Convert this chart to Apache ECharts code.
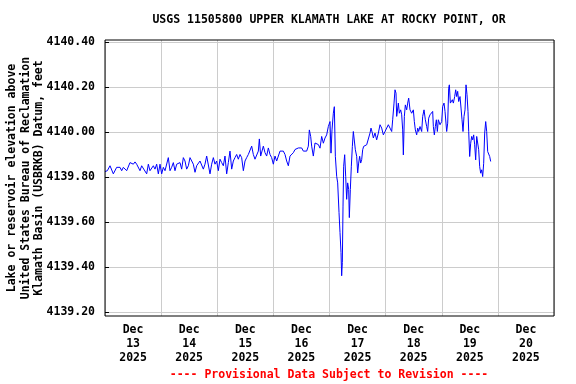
<!DOCTYPE html>
<html>
<head>
<meta charset="utf-8">
<script src="https://cdn.jsdelivr.net/npm/echarts@6/dist/echarts.min.js"></script>
<style>html,body{margin:0;padding:0;background:#fff}#c{width:576px;height:384px}</style>
</head>
<body>
<div id="c"></div>
<script>
const titleText = 'USGS 11505800 UPPER KLAMATH LAKE AT ROCKY POINT, OR';
const footerText = '---- Provisional Data Subject to Revision ----';
const yAxisName = 'Lake or reservoir elevation above\nUnited States Bureau of Reclamation\nKlamath Basin (USBRKB) Datum, feet';
const dayMonth = 'Dec';
const dayNumbers = ['13', '14', '15', '16', '17', '18', '19', '20'];
const dayYear = '2025';
const yMin = 4139.2, yMax = 4140.4, yStep = 0.2;
// hours since Dec 13 2025 00:00
const hours = [
0,1.0,2.14,3.56,4.99,6.41,7.13,7.84,9.27,10.69,11.40,12.12,12.83,13.54,14.97,15.68,16.39,17.82,18.53,19.24,
20.67,21.38,22.09,22.81,23.52,24.23,24.94,25.66,27.08,27.80,28.51,29.22,29.93,30.65,32.07,32.78,33.50,34.21,34.92,35.64,
36.35,37.06,37.77,38.49,39.20,40.62,41.34,42.05,42.76,43.48,44.19,44.90,45.61,46.33,47.04,47.75,48.46,49.18,49.89,50.60,
51.31,52.03,52.74,53.45,54.17,54.88,55.59,56.30,57.02,
57.73,58.44,59.16,59.87,60.58,61.29,62.01,62.72,63.43,64.14,64.86,65.57,66.0,66.57,67.0,67.71,68.42,69.13,69.85,70.56,
71.27,71.98,72.70,73.41,74.12,74.84,75.55,76.26,76.97,77.69,78.40,79.11,79.82,80.54,81.25,81.96,82.68,83.39,84.10,84.81,
85.53,86.24,86.95,87.38,87.95,88.38,89.09,89.80,90.51,91.23,
91.94,92.65,93.37,94.08,94.79,95.50,96.22,96.64,97.07,97.64,98.07,98.50,99.07,99.50,100.07,100.49,100.92,101.20,101.49,101.78,
102.06,102.49,102.92,103.34,103.77,104.20,104.48,104.91,105.34,105.77,106.19,106.62,107.05,107.62,108.05,108.47,108.90,109.33,109.76,110.19,
110.61,111.18,111.90,112.61,113.32,113.75,114.32,114.75,115.46,116.17,116.89,
117.60,118.31,119.03,119.74,120.45,121.16,121.88,122.59,123.02,123.59,124.01,124.44,124.73,125.44,125.87,126.44,126.87,127.29,127.58,128.01,
128.43,129.00,129.43,129.86,130.43,131.14,131.85,132.28,132.71,133.28,133.71,134.13,134.70,135.42,135.85,136.42,136.99,137.56,137.98,138.41,
138.98,139.69,140.12,140.41,140.83,141.26,141.69,142.12,142.54,143.26,143.97,144.40,144.97,145.40,146.11,146.54,146.96,147.25,147.68,148.10,
148.53,148.96,149.53,149.96,150.39,150.81,151.24,151.81,152.24,152.67,153.09,153.52,153.95,154.38,154.80,155.23,155.52,155.94,156.37,156.80,
157.23,157.65,158.08,158.51,158.94,159.36,159.79,160.22,160.65,161.08,161.50,161.93,162.36,162.79,163.21,163.64,164.07,164.50,164.92
];
const levels = [
4139.825,4139.829,4139.851,4139.815,4139.844,4139.844,4139.829,4139.844,4139.829,4139.865,4139.872,4139.858,4139.868,4139.858,4139.829,4139.851,4139.851,4139.815,4139.858,4139.829,
4139.851,4139.836,4139.858,4139.815,4139.858,4139.815,4139.844,4139.829,4139.887,4139.829,4139.844,4139.865,4139.829,4139.858,4139.865,4139.836,4139.887,4139.872,4139.836,4139.851,
4139.887,4139.880,4139.858,4139.822,4139.851,4139.872,4139.865,4139.836,4139.858,4139.894,4139.901,4139.815,4139.858,4139.887,4139.858,4139.872,4139.829,4139.880,4139.865,4139.851,
4139.894,4139.815,4139.865,4139.916,4139.836,4139.872,4139.887,4139.901,4139.880,
4139.901,4139.887,4139.829,4139.872,4139.887,4139.901,4139.909,4139.938,4139.901,4139.880,4139.887,4139.916,4139.970,4139.894,4139.887,4139.938,4139.909,4139.894,4139.930,4139.901,
4139.887,4139.858,4139.894,4139.872,4139.872,4139.916,4139.923,4139.916,4139.901,4139.872,4139.851,4139.894,4139.901,4139.909,4139.923,4139.916,4139.930,4139.923,4139.930,4139.916,
4139.923,4139.916,4139.938,4140.010,4139.981,4139.938,4139.894,4139.952,4139.959,4139.945,
4139.929,4139.981,4139.951,4139.974,4139.988,4140.025,4140.047,4139.907,4140.010,4140.084,4140.113,4139.893,4139.804,4139.775,4139.643,4139.555,4139.466,4139.363,4139.422,4139.672,
4139.849,4139.900,4139.804,4139.702,4139.775,4139.746,4139.621,4139.746,4139.849,4139.937,4140.003,4140.007,4139.922,4139.893,4139.819,4139.863,4139.893,4139.863,4139.878,4139.922,
4139.937,4139.929,4139.944,4139.951,4139.996,4140.018,4139.996,4139.974,4139.996,4139.966,4139.996,
4140.033,4140.018,4139.988,4140.003,4140.003,4140.033,4140.018,4140.003,4140.055,4140.129,4140.188,4140.173,4140.070,4140.129,4140.084,4140.099,4140.077,4140.010,4139.899,4140.070,
4140.121,4140.099,4140.129,4140.151,4140.099,4140.084,4140.099,4140.047,4140.010,4139.988,4140.018,4140.003,4140.025,4140.003,4140.070,4140.099,4140.055,4140.025,4140.003,4140.062,
4140.077,4140.077,4140.092,4140.025,4139.988,4140.025,4140.055,4140.003,4140.055,4140.033,4140.047,4140.114,4140.129,4140.092,4140.003,4140.040,4140.195,4140.210,4140.129,4140.136,
4140.144,4140.129,4140.158,4140.188,4140.158,4140.181,4140.136,4140.158,4140.107,4140.055,4140.003,4140.070,4140.099,4140.210,4140.166,4140.092,4140.003,4139.892,4139.951,4139.981,
4139.966,4139.988,4139.944,4139.877,4139.981,4139.973,4139.922,4139.847,4139.818,4139.833,4139.803,4139.862,4139.996,4140.047,4140.003,4139.914,4139.907,4139.892,4139.870
];

const FONT = '"DejaVu Sans Mono", "Liberation Mono", monospace';
const chart = echarts.init(document.getElementById('c'), null, {renderer: 'canvas'});
const labelStyle = {fontFamily: FONT, fontWeight: 'bold', fontSize: 11.5, color: '#000'};
chart.setOption({
  animation: false,
  backgroundColor: '#fff',
  grid: [
    {left: 105, top: 40, width: 449, height: 276, show: true, borderColor: '#000', borderWidth: 1,
     backgroundColor: 'transparent', z: 3, containLabel: false, outerBoundsMode: 'none'},
    {left: 105, top: 42, width: 449, height: 270.5, containLabel: false, outerBoundsMode: 'none'}
  ],
  xAxis: [
    {gridIndex: 0, type: 'category', boundaryGap: true,
     data: dayNumbers.map(d => dayMonth + '\n' + d + '\n' + dayYear),
     axisLine: {show: false}, axisTick: {show: false},
     splitLine: {show: true, interval: 0, lineStyle: {color: '#cccccc', width: 1}},
     axisLabel: Object.assign({interval: 0, margin: 7, lineHeight: 14}, labelStyle)},
    {gridIndex: 1, type: 'value', min: 0, max: 192, show: false}
  ],
  yAxis: [
    {gridIndex: 0, type: 'value', show: false},
    {gridIndex: 1, type: 'value', min: yMin, max: yMax, interval: yStep,
     axisLine: {show: false},
     axisTick: {show: true, inside: true, length: 4, lineStyle: {color: '#000'}},
     splitLine: {show: true, lineStyle: {color: '#cccccc', width: 1}},
     axisLabel: Object.assign({margin: 10, formatter: v => v.toFixed(2)}, labelStyle)}
  ],
  graphic: [
    {type: 'text', x: 329, y: 20, style: {text: titleText, textAlign: 'center', textVerticalAlign: 'middle', font: 'bold 11.5px ' + FONT, fill: '#000'}},
    {type: 'text', x: 26, y: 178, rotation: Math.PI / 2,
     style: {text: yAxisName, textAlign: 'center', textVerticalAlign: 'middle', lineHeight: 13.5, font: 'bold 11.5px ' + FONT, fill: '#000'}},
    {type: 'text', x: 329, y: 375, style: {text: footerText, textAlign: 'center', textVerticalAlign: 'middle', font: 'bold 11.5px ' + FONT, fill: '#ff0000'}}
  ],
  series: [{
    type: 'line', xAxisIndex: 1, yAxisIndex: 1, symbol: 'none', showSymbol: false,
    lineStyle: {color: '#0000ff', width: 1}, z: 2,
    data: hours.map((h, i) => [h, levels[i]])
  }]
});
</script>
</body>
</html>
